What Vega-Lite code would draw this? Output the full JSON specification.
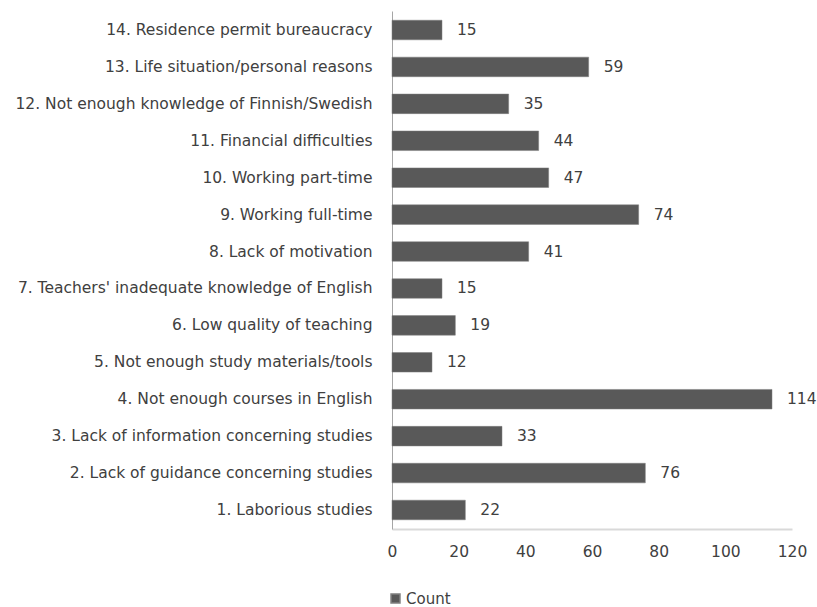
{
  "$schema": "https://vega.github.io/schema/vega-lite/v6.json",
  "width": 400,
  "height": 518,
  "autosize": "none",
  "padding": {"left": 392, "top": 11, "right": 25, "bottom": 78},
  "background": "white",
  "config": {
    "view": {"stroke": null},
    "font": "DejaVu Sans",
    "axis": {"labelFont": "DejaVu Sans", "labelColor": "#404040", "labelFontSize": 15.5, "grid": false, "ticks": false, "domainColor": "#d9d9d9"}
  },
  "data": {
    "values": [
      {"reason": "14. Residence permit bureaucracy", "count": 15, "order": 14},
      {"reason": "13. Life situation/personal reasons", "count": 59, "order": 13},
      {"reason": "12. Not enough knowledge of Finnish/Swedish", "count": 35, "order": 12},
      {"reason": "11. Financial difficulties", "count": 44, "order": 11},
      {"reason": "10. Working part-time", "count": 47, "order": 10},
      {"reason": "9. Working full-time", "count": 74, "order": 9},
      {"reason": "8. Lack of motivation", "count": 41, "order": 8},
      {"reason": "7. Teachers' inadequate knowledge of English", "count": 15, "order": 7},
      {"reason": "6. Low quality of teaching", "count": 19, "order": 6},
      {"reason": "5. Not enough study materials/tools", "count": 12, "order": 5},
      {"reason": "4. Not enough courses in English", "count": 114, "order": 4},
      {"reason": "3. Lack of information concerning studies", "count": 33, "order": 3},
      {"reason": "2. Lack of guidance concerning studies", "count": 76, "order": 2},
      {"reason": "1. Laborious studies", "count": 22, "order": 1}
    ]
  },
  "encoding": {
    "y": {
      "field": "reason", "type": "nominal",
      "sort": {"field": "order", "order": "descending"},
      "scale": {"paddingInner": 0.47, "paddingOuter": 0.25},
      "axis": {"title": null, "labelPadding": 20, "domainColor": "#a6a6a6", "labelLimit": 400}
    },
    "x": {
      "field": "count", "type": "quantitative",
      "scale": {"domain": [0, 120]},
      "axis": {"title": null, "values": [0, 20, 40, 60, 80, 100, 120], "labelPadding": 15, "domainWidth": 2, "labelFlush": false}
    }
  },
  "layer": [
    {
      "mark": {"type": "bar", "stroke": "#7f7f7f", "strokeWidth": 0.5},
      "encoding": {
        "color": {
          "datum": "Count",
          "scale": {"range": ["#595959"]},
          "legend": {"title": null, "orient": "none", "legendX": -4, "legendY": 580, "symbolType": "square", "symbolSize": 80, "labelFont": "DejaVu Sans", "labelFontSize": 15, "labelColor": "#404040", "labelOffset": 3}
        }
      }
    },
    {
      "mark": {"type": "text", "align": "left", "dx": 15, "font": "DejaVu Sans", "fontSize": 15.5, "color": "#404040"},
      "encoding": {"text": {"field": "count", "type": "quantitative"}}
    }
  ]
}
